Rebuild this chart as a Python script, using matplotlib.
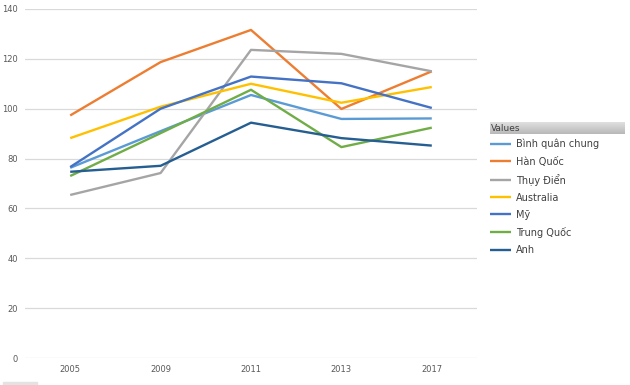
import matplotlib.pyplot as plt
import numpy as np
from matplotlib.patches import Rectangle
from matplotlib.colors import LinearSegmentedColormap

years = ["2005", "2009", "2011", "2013", "2017"]
series_names = ["Bình quân chung", "Hàn Quốc", "Thụy Điển", "Australia",
                "Mỹ", "Trung Quốc", "Anh"]
binh_quan = [76.3, 91.0, 105.5, 95.9, 96.1]
han_quoc = [97.3, 118.7, 131.6, 99.9, 115.0]
thuy_dien = [65.4, 74.2, 123.6, 122.0, 115.0]
australia = [88.2, 100.8, 110.0, 102.4, 108.7]
my = [76.6, 100.0, 112.9, 110.2, 100.3]
trung_quoc = [73.0, 90.2, 107.6, 84.6, 92.4]
anh = [74.7, 77.1, 94.4, 88.2, 85.2]
all_values = [binh_quan, han_quoc, thuy_dien, australia, my, trung_quoc, anh]
colors = ["#5B9BD5", "#ED7D31", "#A5A5A5", "#FFC000", "#4472C4", "#70AD47", "#255E91"]

W, H = 630, 385
fig = plt.figure(figsize=(6.3, 3.85), dpi=100)
ax = fig.add_axes([25 / W, 1 - 358 / H, (477 - 25) / W, (358 - 9) / H])

x = np.arange(len(years))
for vals, name, c in zip(all_values, series_names, colors):
    ax.plot(x, vals, color=c, lw=1.7, label=name, solid_capstyle="butt")

ax.set_xlim(-0.5, len(years) - 0.5)
ax.set_ylim(0, 140)
ax.set_yticks(range(0, 141, 20))
ax.set_xticks(x)
ax.set_xticklabels(years)
ax.grid(axis="y", color="#D9D9D9", lw=0.9)
ax.set_axisbelow(True)
for s in ax.spines.values():
    s.set_visible(False)
ax.tick_params(axis="both", length=0, labelsize=6, colors="#595959")
ax.tick_params(axis="y", pad=5)
ax.tick_params(axis="x", pad=5)

# legend header (gray gradient bar with "Values")
grad = np.linspace(0, 1, 50).reshape(-1, 1)
hax = fig.add_axes([490 / W, 1 - 134 / H, (625 - 490) / W, 12 / H])
hax.imshow(grad, aspect="auto", extent=[0, 1, 0, 1],
           cmap=LinearSegmentedColormap.from_list("g", ["#E0E0E0", "#B8B8B8"]))
hax.axis("off")
fig.text(491 / W, 1 - 128.5 / H, "Values", fontsize=6.5, color="#404040", va="center")

leg = ax.legend(loc="upper left", bbox_to_anchor=(488 / W, 1 - 137 / H),
                bbox_transform=fig.transFigure, frameon=False, fontsize=7,
                handlelength=2.2, handletextpad=0.5, labelspacing=0.73,
                borderaxespad=0, borderpad=0.2)
for t in leg.get_texts():
    t.set_color("#404040")

# small gray tab at bottom-left
fig.patches.append(Rectangle((3 / W, 0), 34 / W, 3 / H, transform=fig.transFigure,
                             color="#E3E3E3", zorder=0))

fig.savefig("out.png", dpi=100)
